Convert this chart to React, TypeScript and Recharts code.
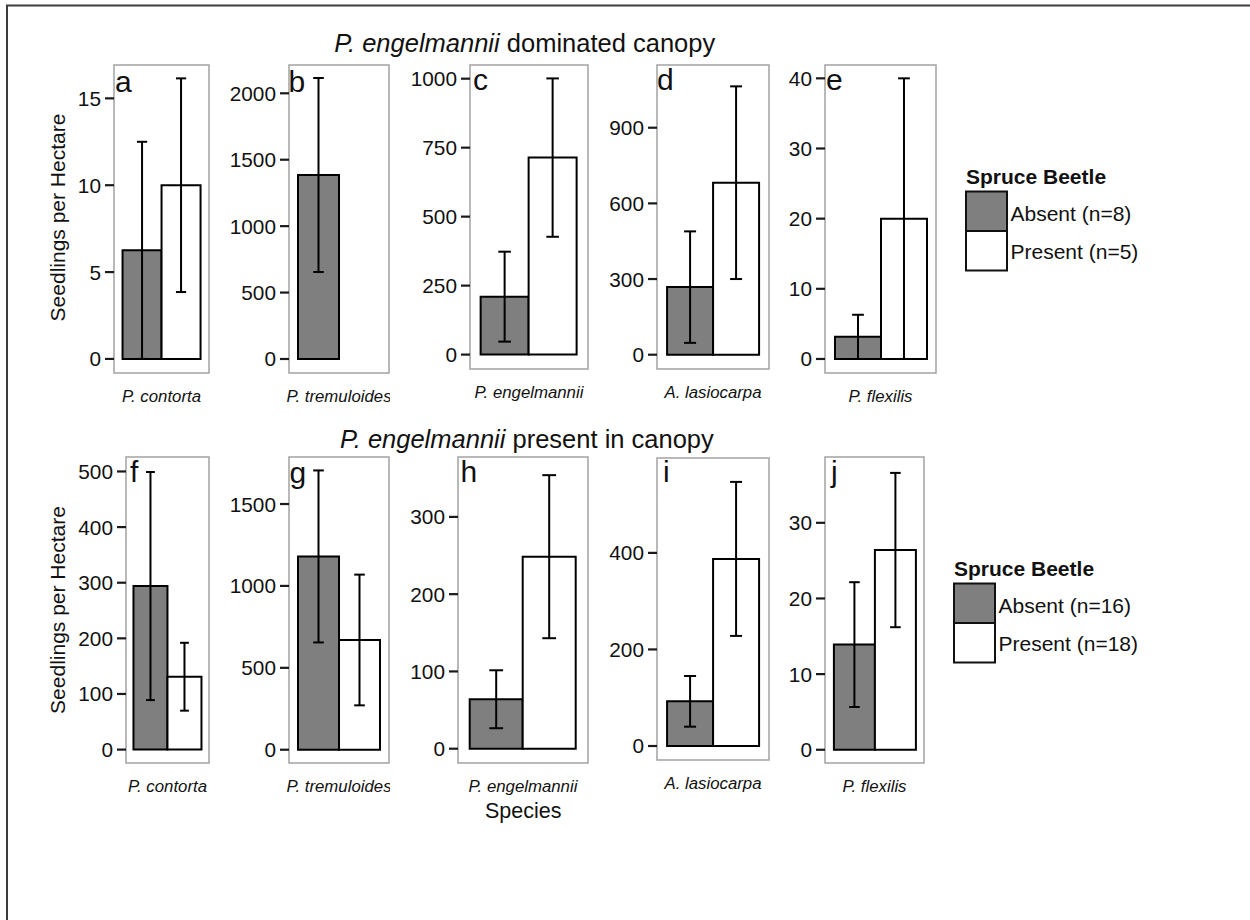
import React from 'react';
import { BarChart, Bar, XAxis, YAxis, ErrorBar, ReferenceArea } from 'recharts';

// ---------------- DATA ----------------
const species = ['P. contorta', 'P. tremuloides', 'P. engelmannii', 'A. lasiocarpa', 'P. flexilis'];

// Row 1: P. engelmannii dominated canopy
const domAbsentMean = [6.25, 1385, 210, 268, 3.15];
const domAbsentLow = [0, 655, 47, 47, 0];
const domAbsentHigh = [12.5, 2115, 373, 489, 6.3];
const domPresentMean = [10, null, 714, 682, 20];
const domPresentLow = [3.85, null, 427, 300, 0];
const domPresentHigh = [16.15, null, 1001, 1064, 40];

// Row 2: P. engelmannii present in canopy
const presAbsentMean = [294, 1180, 64, 92.5, 13.9];
const presAbsentLow = [89, 655, 26.5, 40, 5.65];
const presAbsentHigh = [499, 1705, 101.5, 145, 22.15];
const presPresentMean = [131, 670, 248.5, 387.5, 26.4];
const presPresentLow = [70, 271, 143, 228, 16.2];
const presPresentHigh = [192, 1069, 354, 547, 36.6];

const domTicks = [[0, 5, 10, 15], [0, 500, 1000, 1500, 2000], [0, 250, 500, 750, 1000], [0, 300, 600, 900], [0, 10, 20, 30, 40]];
const presTicks = [[0, 100, 200, 300, 400, 500], [0, 500, 1000, 1500], [0, 100, 200, 300], [0, 200, 400], [0, 10, 20, 30]];

const domLetters = ['a', 'b', 'c', 'd', 'e'];
const presLetters = ['f', 'g', 'h', 'i', 'j'];

const yAxisTitle = 'Seedlings per Hectare';
const xAxisTitle = 'Species';
const legendTitle = 'Spruce Beetle';
const domLegend = ['Absent (n=8)', 'Present (n=5)'];
const presLegend = ['Absent (n=16)', 'Present (n=18)'];

// ---------------- LAYOUT (positions only) ----------------
const FONT = '"Liberation Sans", Arial, Helvetica, sans-serif';
const ABSENT_FILL = '#7f7f7f';
const TICK_SIZE = 9;
const TICK_GAP = 4;

const domLayout = [
  { box: [114, 65, 209, 373], domain: [-0.81, 16.92], letter: [115, 91.7], clip: false },
  { box: [289, 65, 389, 373], domain: [-105.5, 2213], letter: [288.5, 91.7], clip: true },
  { box: [470, 65, 588, 369], domain: [-52.2, 1049.6], letter: [473, 90], clip: false },
  { box: [657, 65, 769, 369], domain: [-56.7, 1148.7], letter: [657, 90], clip: false },
  { box: [825, 65, 936, 373], domain: [-2.0, 41.9], letter: [826, 90], clip: false },
];
const presLayout = [
  { box: [126, 457, 209, 763], domain: [-24.1, 526], letter: [130, 481.7], clip: false },
  { box: [289, 457, 389, 763], domain: [-81, 1787], letter: [289.5, 483], clip: true },
  { box: [458, 457, 588, 763], domain: [-18.5, 377.5], letter: [460.5, 481.7], clip: false },
  { box: [657, 458, 769, 760], domain: [-29, 596.5], letter: [663, 481.7], clip: false },
  { box: [825, 457, 924, 763], domain: [-1.75, 38.7], letter: [831, 481.7], clip: false },
];

function buildRow(i: number, aM: any[], aL: any[], aH: any[], pM: any[], pL: any[], pH: any[]) {
  return [
    {
      species: species[i],
      absent: aM[i],
      absentErr: aM[i] == null ? null : [aM[i] - aL[i], aH[i] - aM[i]],
      present: pM[i],
      presentErr: pM[i] == null ? null : [pM[i] - pL[i], pH[i] - pM[i]],
    },
  ];
}

const XTick = (props: any) => {
  const { x, y, payload } = props;
  return (
    <text x={x} y={y + 28.5} textAnchor="middle" fontStyle="italic" fontSize={16.8} fill="#111" fontFamily={FONT}>
      {payload.value}
    </text>
  );
};

const YTick = (props: any) => {
  const { x, y, payload } = props;
  return (
    <g>
      <line x1={x + TICK_GAP} x2={x + TICK_GAP + TICK_SIZE} y1={y} y2={y} stroke="#1a1a1a" strokeWidth={2.2} />
      <text x={x} y={y} dy="0.36em" textAnchor="end" fontSize={20.8} fill="#111" fontFamily={FONT}>
        {payload.value}
      </text>
    </g>
  );
};

function Panel({ data, layout, ticks }: any) {
  const [L, T, R, B] = layout.box;
  const ML = 70;
  const MT = 10;
  const MB = 45;
  const MR = layout.clip ? 1 : 30;
  const w = R - L + ML + MR;
  const h = B - T + MT + MB;
  const capHalf = Math.round((R - L) * 0.41 * 0.13 * 10) / 10;
  const hasPresent = data[0].present != null;
  return (
    <div style={{ position: 'absolute', left: L - ML, top: T - MT, width: w, height: h, overflow: 'hidden' }}>
      <BarChart
        width={w}
        height={h}
        data={data}
        margin={{ top: MT, right: MR, bottom: 0, left: 0 }}
        barCategoryGap="9%"
        barGap={0}
      >
        <XAxis
          dataKey="species"
          type="category"
          tickLine={false}
          axisLine={false}
          tickSize={0}
          tickMargin={0}
          height={MB}
          interval={0}
          tick={<XTick />}
        />
        <YAxis
          type="number"
          domain={layout.domain}
          allowDataOverflow
          ticks={ticks}
          interval={0}
          width={ML}
          axisLine={false}
          tickLine={false}
          tickSize={TICK_SIZE}
          tickMargin={TICK_GAP}
          tick={<YTick />}
        />
        <ReferenceArea
          y1={layout.domain[0]}
          y2={layout.domain[1]}
          fill="none"
          fillOpacity={0}
          stroke="#a3a3a3"
          strokeWidth={1.5}
          ifOverflow="visible"
        />
        <Bar dataKey="absent" fill={ABSENT_FILL} stroke="#000" strokeWidth={2} isAnimationActive={false}>
          <ErrorBar dataKey="absentErr" width={capHalf} stroke="#000" strokeWidth={2} />
        </Bar>
        <Bar dataKey="present" fill="#fff" stroke="#000" strokeWidth={2} isAnimationActive={false}>
          {hasPresent ? <ErrorBar dataKey="presentErr" width={capHalf} stroke="#000" strokeWidth={2} /> : null}
        </Bar>
      </BarChart>
    </div>
  );
}

function LegendBlock({ x, y, labels }: any) {
  const kw = 41;
  const kh = 39.5;
  return (
    <g>
      <text x={x} y={y - 7.5} fontSize={21} fontWeight="bold" fill="#111">{legendTitle}</text>
      <rect x={x} y={y} width={kw} height={kh} fill={ABSENT_FILL} stroke="#111" strokeWidth={2} />
      <rect x={x} y={y + kh} width={kw} height={kh} fill="#fff" stroke="#111" strokeWidth={2} />
      <text x={x + kw + 3.5} y={y + 29.5} fontSize={21} fill="#111">{labels[0]}</text>
      <text x={x + kw + 3.5} y={y + 67.5} fontSize={21} fill="#111">{labels[1]}</text>
    </g>
  );
}

export default function App() {
  const domData = species.map((_, i) =>
    buildRow(i, domAbsentMean, domAbsentLow, domAbsentHigh, domPresentMean, domPresentLow, domPresentHigh)
  );
  const presData = species.map((_, i) =>
    buildRow(i, presAbsentMean, presAbsentLow, presAbsentHigh, presPresentMean, presPresentLow, presPresentHigh)
  );
  return (
    <div
      style={{
        position: 'absolute',
        left: 0,
        top: 0,
        width: 1250,
        height: 920,
        background: '#fff',
        fontFamily: FONT,
        overflow: 'hidden',
      }}
    >
      {domData.map((d, i) => (
        <Panel key={'d' + i} data={d} layout={domLayout[i]} ticks={domTicks[i]} />
      ))}
      {presData.map((d, i) => (
        <Panel key={'p' + i} data={d} layout={presLayout[i]} ticks={presTicks[i]} />
      ))}
      <svg
        width={1250}
        height={920}
        style={{ position: 'absolute', left: 0, top: 0, pointerEvents: 'none' }}
        fontFamily={FONT}
      >
        <path d="M7,920 L7,5.5 L1250,5.5" fill="none" stroke="#3c3c3c" strokeWidth={2} />
        <text x={334.3} y={51.7} fontSize={25.5} fill="#111">
          <tspan fontStyle="italic">P. engelmannii</tspan>
          <tspan> dominated canopy</tspan>
        </text>
        <text x={340} y={448.3} fontSize={25.5} fill="#111">
          <tspan fontStyle="italic">P. engelmannii</tspan>
          <tspan> present in canopy</tspan>
        </text>
        <text transform="translate(65,217.5) rotate(-90)" textAnchor="middle" fontSize={21} fill="#111">
          {yAxisTitle}
        </text>
        <text transform="translate(65,610) rotate(-90)" textAnchor="middle" fontSize={21} fill="#111">
          {yAxisTitle}
        </text>
        <text x={523.2} y={817.5} textAnchor="middle" fontSize={21.5} fill="#111">
          {xAxisTitle}
        </text>
        {domLetters.map((l, i) => (
          <text key={l} x={domLayout[i].letter[0]} y={domLayout[i].letter[1]} fontSize={30} fill="#111">
            {l}
          </text>
        ))}
        {presLetters.map((l, i) => (
          <text key={l} x={presLayout[i].letter[0]} y={presLayout[i].letter[1]} fontSize={30} fill="#111">
            {l}
          </text>
        ))}
        <LegendBlock x={966} y={191.5} labels={domLegend} />
        <LegendBlock x={954} y={583.5} labels={presLegend} />
      </svg>
    </div>
  );
}
